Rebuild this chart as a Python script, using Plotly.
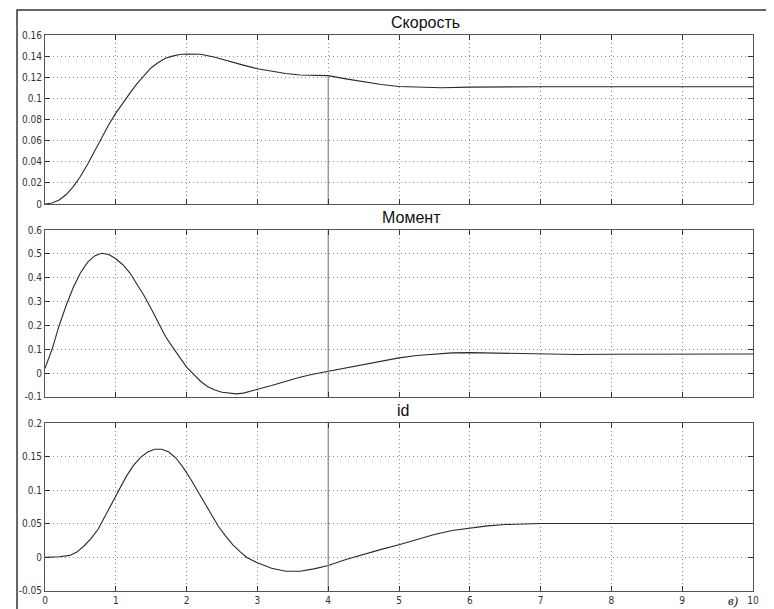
import plotly.graph_objects as go

# ---------------- data ----------------
t_speed = [0, 0.1, 0.2, 0.3, 0.4, 0.5, 0.6, 0.7, 0.8, 0.9, 1.0, 1.1, 1.2, 1.3, 1.4, 1.5,
           1.6, 1.7, 1.8, 1.9, 2.0, 2.1, 2.2, 2.4, 2.6, 2.8, 3.0, 3.2, 3.4, 3.6, 3.8, 4.0,
           4.25, 4.5, 4.75, 5.0, 5.3, 5.6, 6.0, 6.5, 7, 8, 9, 10]
speed = [0, 0.001, 0.0038, 0.009, 0.0165, 0.026, 0.0375, 0.050, 0.063, 0.075, 0.086, 0.096,
         0.105, 0.114, 0.122, 0.129, 0.134, 0.138, 0.140, 0.1415, 0.142, 0.142, 0.1418, 0.139,
         0.135, 0.1315, 0.128, 0.1255, 0.1235, 0.1222, 0.1217, 0.1215,
         0.1185, 0.1158, 0.1132, 0.1112, 0.1103, 0.1100, 0.1107, 0.111, 0.111, 0.111, 0.111, 0.111]

t_torque = [0, 0.1, 0.2, 0.3, 0.4, 0.5, 0.6, 0.7, 0.8, 0.9, 1.0, 1.1, 1.2, 1.3, 1.4, 1.5, 1.6,
            1.7, 1.8, 1.9, 2.0, 2.1, 2.2, 2.3, 2.4, 2.5, 2.6, 2.7, 2.8, 2.9, 3.0, 3.2, 3.4, 3.6,
            3.8, 4.0, 4.25, 4.5, 4.75, 5.0, 5.25, 5.5, 5.75, 6.0, 6.5, 7, 7.5, 8, 8.5, 9, 10]
torque = [0.02, 0.10, 0.20, 0.285, 0.36, 0.42, 0.465, 0.492, 0.503, 0.498, 0.48, 0.455, 0.42,
          0.375, 0.325, 0.27, 0.21, 0.155, 0.11, 0.065, 0.025, -0.005, -0.035, -0.057, -0.071,
          -0.08, -0.085, -0.087, -0.084, -0.077, -0.068, -0.052, -0.033, -0.017, -0.004, 0.007,
          0.021, 0.036, 0.051, 0.064, 0.074, 0.081, 0.085, 0.086, 0.083, 0.08, 0.078, 0.079,
          0.08, 0.08, 0.08]

t_id = [0, 0.2, 0.35, 0.45, 0.55, 0.65, 0.75, 0.85, 0.95, 1.05, 1.15, 1.25, 1.35, 1.45, 1.55,
        1.65, 1.75, 1.85, 1.95, 2.05, 2.15, 2.25, 2.35, 2.45, 2.55, 2.65, 2.75, 2.85, 3.0, 3.2,
        3.4, 3.6, 3.8, 4.0, 4.25, 4.5, 4.75, 5.0, 5.25, 5.5, 5.75, 6.0, 6.25, 6.5, 6.75, 7, 8, 9, 10]
id_cur = [0, 0.001, 0.003, 0.008, 0.017, 0.028, 0.042, 0.062, 0.083, 0.102, 0.121, 0.137, 0.149,
          0.157, 0.161, 0.161, 0.157, 0.148, 0.134, 0.118, 0.100, 0.081, 0.063, 0.046, 0.032,
          0.019, 0.009, 0.0, -0.008, -0.016, -0.0205, -0.0205, -0.017, -0.012, -0.003, 0.005,
          0.012, 0.019, 0.027, 0.034, 0.040, 0.044, 0.047, 0.049, 0.0502, 0.0505, 0.0505,
          0.0505, 0.0505]

titles = ["Скорость", "Момент", "id"]
switch_time = 4

x_ticks = list(range(0, 11))
y1_ticks = [0, 0.02, 0.04, 0.06, 0.08, 0.1, 0.12, 0.14, 0.16]
y1_labels = ["0", "0.02", "0.04", "0.06", "0.08", "0.1", "0.12", "0.14", "0.16"]
y2_ticks = [-0.1, 0, 0.1, 0.2, 0.3, 0.4, 0.5, 0.6]
y2_labels = ["-0.1", "0", "0.1", "0.2", "0.3", "0.4", "0.5", "0.6"]
y3_ticks = [-0.05, 0, 0.05, 0.1, 0.15, 0.2]
y3_labels = ["-0.05", "0", "0.05", "0.1", "0.15", "0.2"]

# ---------------- figure ----------------
line_col = "#2a2a2a"
vline_col = "#8a8a8a"
fig = go.Figure()

series = [(t_speed, speed, "x", "y"), (t_torque, torque, "x2", "y2"), (t_id, id_cur, "x3", "y3")]
for tt, vv, xa, ya in series:
    fig.add_trace(go.Scatter(x=tt, y=vv, mode="lines", xaxis=xa, yaxis=ya,
                             line=dict(color=line_col, width=1.1), showlegend=False,
                             hoverinfo="skip"))

# vertical switch line
v_at_switch = speed[t_speed.index(switch_time)]
fig.add_trace(go.Scatter(x=[switch_time, switch_time], y=[0, v_at_switch], mode="lines",
                         xaxis="x", yaxis="y", line=dict(color=vline_col, width=1.2),
                         showlegend=False, hoverinfo="skip"))
fig.add_trace(go.Scatter(x=[switch_time, switch_time], y=[y2_ticks[0], y2_ticks[-1]], mode="lines",
                         xaxis="x2", yaxis="y2", line=dict(color=vline_col, width=1.2),
                         showlegend=False, hoverinfo="skip"))
fig.add_trace(go.Scatter(x=[switch_time, switch_time], y=[y3_ticks[0], y3_ticks[-1]], mode="lines",
                         xaxis="x3", yaxis="y3", line=dict(color=vline_col, width=1.2),
                         showlegend=False, hoverinfo="skip"))

tick_font = dict(family="Liberation Sans Narrow, DejaVu Sans Condensed, Arial Narrow, sans-serif",
                 size=10, color="#333")
common = dict(showline=True, linecolor="#555", linewidth=1, mirror="ticks", ticks="inside",
              ticklen=5, tickcolor="#333", showgrid=True, gridcolor="#8c8c8c", griddash="1px,3px",
              gridwidth=1, zeroline=False, tickfont=tick_font, automargin=False)

domains = [[0.696, 1.0], [0.349, 0.649], [0.0, 0.302]]
yt = [(y1_ticks, y1_labels), (y2_ticks, y2_labels), (y3_ticks, y3_labels)]
for i in range(3):
    sfx = "" if i == 0 else str(i + 1)
    fig.layout["xaxis" + sfx] = dict(common, domain=[0, 1], range=[x_ticks[0], x_ticks[-1]],
                                     tickvals=x_ticks, showticklabels=(i == 2),
                                     anchor="y" + sfx)
    fig.layout["yaxis" + sfx] = dict(common, domain=domains[i], range=[yt[i][0][0], yt[i][0][-1]],
                                     tickvals=yt[i][0], ticktext=yt[i][1], anchor="x" + sfx)

title_pos = [(0.537, 1.023), (0.518, 0.671), (0.506, 0.3255)]
for txt, (px, py) in zip(titles, title_pos):
    fig.add_annotation(text=txt, x=px, y=py, xref="paper", yref="paper", showarrow=False,
                       font=dict(family="Liberation Sans, Arial, sans-serif", size=16, color="#111"),
                       xanchor="center", yanchor="middle")

fig.add_annotation(text="<i>в)</i>", x=0.972, y=-0.017, xref="paper", yref="paper",
                   showarrow=False, xanchor="center", yanchor="middle",
                   font=dict(family="Liberation Serif, serif", size=13, color="#222"))

# outer frame
fig.add_shape(type="rect", xref="paper", yref="paper", x0=-0.0395, x1=1.0212, y0=-0.2, y1=1.045,
              line=dict(color="#333", width=1.5), fillcolor="rgba(0,0,0,0)", layer="below")

# page body has an 8px margin, so the figure is 8px smaller on each axis
fig.update_layout(width=766, height=601, margin=dict(l=37, r=21, t=27, b=18),
                  paper_bgcolor="white", plot_bgcolor="white")

fig.write_html("out.html")
